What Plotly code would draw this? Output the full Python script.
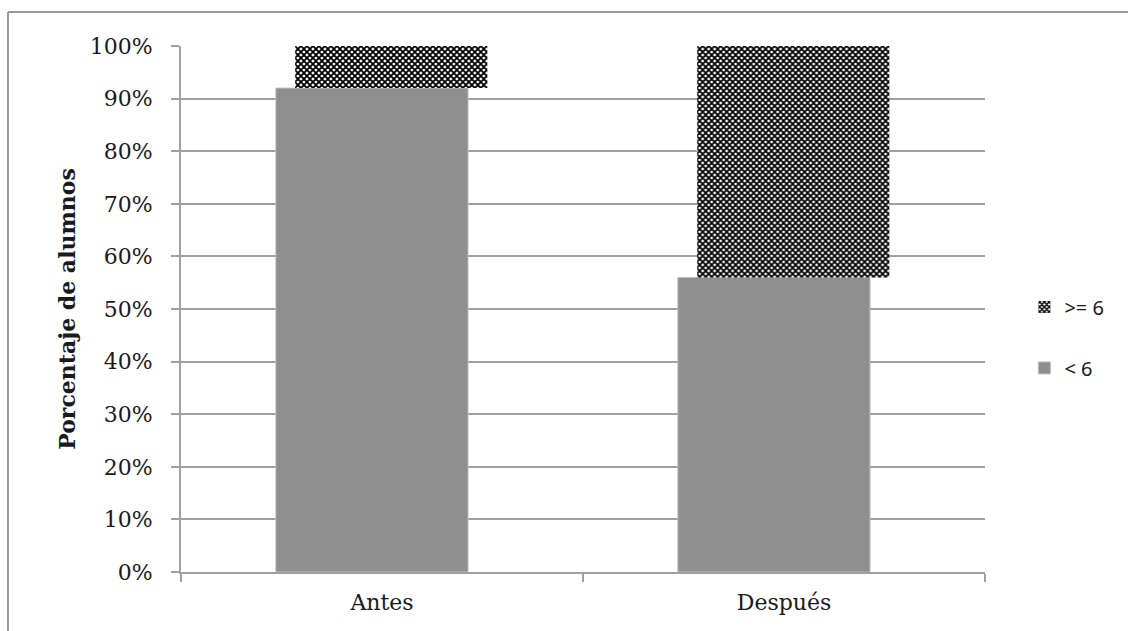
import plotly.graph_objects as go

# Data
categorias = ["Antes", "Después"]
menor_6 = [0.92, 0.56]          # share of students scoring < 6
mayor_igual_6 = [0.08, 0.44]    # share of students scoring >= 6
y_ticks = [0, 0.1, 0.2, 0.3, 0.4, 0.5, 0.6, 0.7, 0.8, 0.9, 1.0]
y_tick_labels = ["0%", "10%", "20%", "30%", "40%", "50%", "60%", "70%", "80%", "90%", "100%"]

GRAY = "#8f8f8f"
AXIS = "#a0a0a0"
SERIF = "DejaVu Serif"
SANS = "Noto Sans"
TEXT = "#1a1a1a"

fig = go.Figure()

fig.add_trace(go.Bar(
    x=categorias, y=menor_6, name="< 6",
    width=0.478, offset=-0.264,
    marker=dict(color=GRAY, line=dict(color="#bdbdbd", width=1)),
    legend="legend2",
))

fig.add_trace(go.Bar(
    x=categorias, y=mayor_igual_6, base=menor_6, name=">= 6",
    width=0.478, offset=-0.216,
    marker=dict(
        color="white",
        line=dict(width=0),
        pattern=dict(shape="x", fgcolor="black", bgcolor="white",
                     size=4.24, solidity=0.66, fillmode="replace"),
    ),
    legend="legend",
))

fig.update_layout(
    width=1128, height=631,
    margin=dict(l=181, r=143, t=46, b=59),
    paper_bgcolor="white", plot_bgcolor="white",
    barmode="overlay",
    showlegend=True,
    font=dict(family=SERIF, size=22, color=TEXT),
    xaxis=dict(
        type="category", tickson="boundaries",
        range=[-0.5, 1.5],
        showline=True, linecolor=AXIS, linewidth=2,
        ticks="outside", ticklen=8, tickwidth=2, tickcolor=AXIS,
        showgrid=False, zeroline=False,
        ticklabelstandoff=10,
        tickfont=dict(family=SERIF, size=22, color=TEXT),
    ),
    yaxis=dict(
        range=[0, 1.0], tickvals=y_ticks, ticktext=y_tick_labels,
        showline=True, linecolor=AXIS, linewidth=2,
        ticks="outside", ticklen=8, tickwidth=2, tickcolor=AXIS,
        showgrid=True, gridcolor=AXIS, gridwidth=2,
        zeroline=False,
        ticklabelstandoff=14,
        tickfont=dict(family=SERIF, size=22, color=TEXT),
        title=dict(text="<b>Porcentaje de alumnos</b>", standoff=8,
                   font=dict(family=SERIF, size=22, color=TEXT)),
    ),
    legend=dict(x=1.049, y=0.504, xanchor="left", yanchor="middle",
                font=dict(family=SANS, size=20, color=TEXT),
                bgcolor="rgba(0,0,0,0)", itemwidth=30),
    legend2=dict(x=1.049, y=0.388, xanchor="left", yanchor="middle",
                 font=dict(family=SANS, size=20, color=TEXT),
                 bgcolor="rgba(0,0,0,0)", itemwidth=30),
)

# Frame around the chart (top and left edges visible)
fig.add_shape(type="line", xref="paper", yref="paper",
              x0=-0.2152, x1=1.3, y0=1.0646, y1=1.0646,
              line=dict(color="#9a9a9a", width=2))
fig.add_shape(type="line", xref="paper", yref="paper",
              x0=-0.2152, x1=-0.2152, y0=-0.2, y1=1.0646,
              line=dict(color="#9a9a9a", width=2))

fig.write_html("out.html")
